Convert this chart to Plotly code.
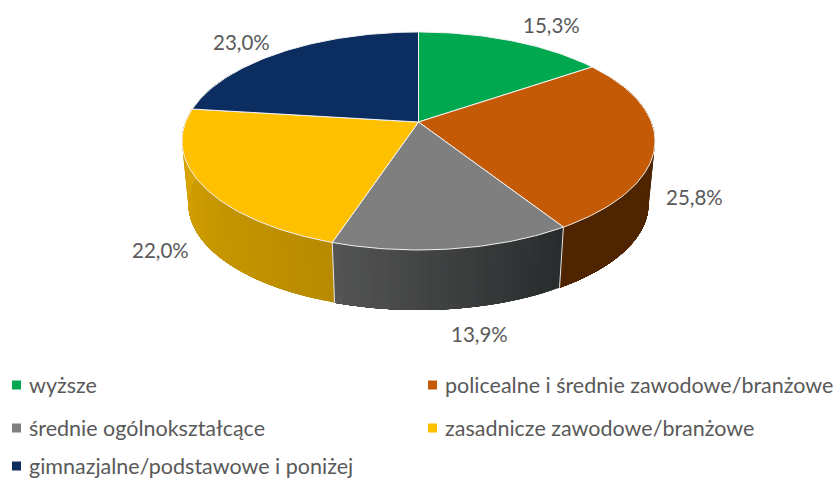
import math
import plotly.graph_objects as go

categories = ["wyższe", "policealne i średnie zawodowe/branżowe", "średnie ogólnokształcące",
              "zasadnicze zawodowe/branżowe", "gimnazjalne/podstawowe i poniżej"]
values = [15.3, 25.8, 13.9, 22.0, 23.0]
colors = ["#00A84F", "#C55A06", "#7F7F7F", "#FFC000", "#0B2D60"]
side_from = ["#007A39", "#4F2400", "#555555", "#DCA800", "#081F44"]
side_to = ["#007A39", "#4F2400", "#262B2B", "#B88A00", "#081F44"]

CX, CY, A, B, K = 418.5, 122, 232.9, 105.7, 0.174
S, DY = 0.973, 63.5
label_pos = [(551, 25), (694, 197), (479, 334), (160, 250), (241, 42)]
legend_pos = [(12, 385), (428, 385), (12, 428), (428, 428), (12, 466)]
TXT = "#595959"
FONT = "Lato"

def pt(theta, bottom=False):
    u, v = math.sin(theta), math.cos(theta)
    d = 1 + K * v
    s = S if bottom else 1
    return CX + s * A * u / d, CY + (DY if bottom else 0) - s * B * v / d

def hexrgb(c):
    return tuple(int(c[i:i + 2], 16) for i in (1, 3, 5))

def mix(c1, c2, t):
    a, b = hexrgb(c1), hexrgb(c2)
    return "rgb(%d,%d,%d)" % tuple(round(a[i] + (b[i] - a[i]) * t) for i in range(3))

total = sum(values)
edges = [0.0]
for val in values:
    edges.append(edges[-1] + val / total * 2 * math.pi)

fig = go.Figure()
# side wall, only the front part can be seen; each strip runs to the slice's end so no seams show
LO, HI = math.radians(60), math.radians(300)
for i, name in enumerate(categories):
    a0, a1 = max(edges[i], LO), min(edges[i + 1], HI)
    if a1 <= a0:
        continue
    n = max(2, int((a1 - a0) / math.radians(2)))
    for j in range(n):
        t0 = a0 + (a1 - a0) * j / n
        steps = [t0 + (a1 - t0) * q / 12 for q in range(13)]
        col = mix(side_from[i], side_to[i], 1 - (j + .5) / n)
        p = [pt(t) for t in steps] + [pt(t, True) for t in reversed(steps)] + [pt(t0)]
        fig.add_trace(go.Scatter(x=[q[0] for q in p], y=[q[1] for q in p], mode="lines",
                                 fill="toself", fillcolor=col, line=dict(width=0),
                                 hoverinfo="skip", showlegend=False))
for i in range(len(values)):
    if LO < edges[i] < HI:
        p = [pt(edges[i]), pt(edges[i], True)]
        fig.add_trace(go.Scatter(x=[q[0] for q in p], y=[q[1] for q in p], mode="lines",
                                 line=dict(color="#E8E8E8", width=1),
                                 hoverinfo="skip", showlegend=False))

# top faces
for i, name in enumerate(categories):
    m = max(8, int((edges[i + 1] - edges[i]) / math.radians(1)))
    arc = [pt(edges[i] + (edges[i + 1] - edges[i]) * j / m) for j in range(m + 1)]
    xs = [CX] + [q[0] for q in arc] + [CX]
    ys = [CY] + [q[1] for q in arc] + [CY]
    fig.add_trace(go.Scatter(x=xs, y=ys, mode="lines", fill="toself", fillcolor=colors[i],
                             line=dict(color="#F2F2F2", width=1), name=name, showlegend=False,
                             hovertemplate=f"{name}: {values[i]}%<extra></extra>"))

# legend keys, legend texts, value labels
for i, name in enumerate(categories):
    fig.add_trace(go.Scatter(x=[legend_pos[i][0] + 4.5], y=[legend_pos[i][1]], mode="markers",
                             marker=dict(symbol="square", size=9, color=colors[i]),
                             hoverinfo="skip", showlegend=False))
    fig.add_annotation(x=legend_pos[i][0] + 15, y=legend_pos[i][1], text=name, showarrow=False,
                       xanchor="left", yanchor="middle", font=dict(family=FONT, size=21.5, color=TXT))
    fig.add_annotation(x=label_pos[i][0], y=label_pos[i][1], text=f"{values[i]:.1f}%".replace(".", ","),
                       showarrow=False, xanchor="center", yanchor="middle",
                       font=dict(family=FONT, size=20.5, color=TXT))

fig.update_layout(width=837, height=479, margin=dict(l=0, r=0, t=0, b=0),
                  paper_bgcolor="white", plot_bgcolor="white", showlegend=False,
                  xaxis=dict(range=[0, 837], visible=False, fixedrange=True),
                  yaxis=dict(range=[479, 0], visible=False, fixedrange=True))
fig.write_html("out.html", config=dict(displayModeBar=False),
               post_script="document.body.style.margin='0';document.body.style.overflow='hidden';")
